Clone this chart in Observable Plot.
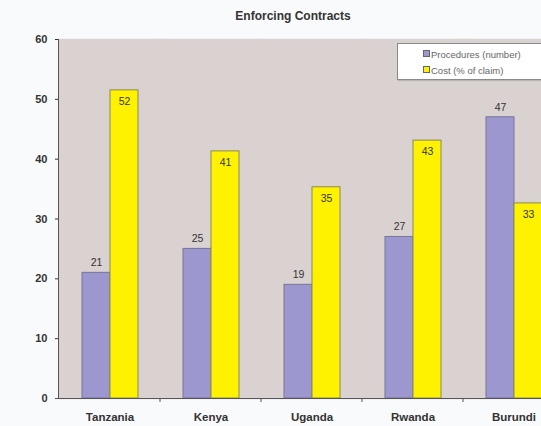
<!DOCTYPE html>
<html>
<head>
<meta charset="utf-8">
<script src="https://cdn.jsdelivr.net/npm/d3@7"></script>
<script src="https://cdn.jsdelivr.net/npm/@observablehq/plot@0.6"></script>
<style>
  html, body { margin: 0; padding: 0; background: #f9fafc; }
  #wrap { position: relative; width: 541px; height: 426px; overflow: hidden; font-family: "Liberation Sans", Arial, sans-serif; }
  #title { position: absolute; left: 0; top: 9px; width: 586px; text-align: center; font-weight: bold; font-size: 12px; color: #333; }
  #chart { position: absolute; left: 0; top: 28px; width: 564px; }
  #chart svg { max-width: none !important; }
  #legend { position: absolute; left: 397px; top: 43px; width: 160px; height: 35px; background: #fff; border: 1px solid #8a8a8a; box-shadow: 1px 1px 1px rgba(0,0,0,0.15); font-size: 9.5px; color: #666; }
  .li { position: absolute; left: 25px; white-space: nowrap; line-height: 11px; }
  .sw { display: inline-block; width: 5px; height: 5px; border: 1px solid #666; margin-right: 1px; vertical-align: 1px; }
</style>
</head>
<body>
<div id="wrap">
  <div id="title">Enforcing Contracts</div>
  <div id="chart"></div>
  <div id="legend"></div>
</div>
<script>
const countries = ["Tanzania", "Kenya", "Uganda", "Rwanda", "Burundi"];
const seriesNames = ["Procedures (number)", "Cost (% of claim)"];
const procedures = [21, 25, 19, 27, 47];
const cost = [51.5, 41.3, 35.3, 43.1, 32.6];
const procedureLabels = ["21", "25", "19", "27", "47"];
const costLabels = ["52", "41", "35", "43", "33"];
const yTicks = [0, 10, 20, 30, 40, 50, 60];
const colors = ["#9c98cf", "#fff200"];
const strokes = ["#77749a", "#8c8a4e"];

const rows = [];
countries.forEach((c, i) => {
  rows.push({country: c, series: seriesNames[0], value: procedures[i], label: procedureLabels[i]});
  rows.push({country: c, series: seriesNames[1], value: cost[i], label: costLabels[i]});
});

const chart = Plot.plot({
  width: 564,
  height: 398,
  marginLeft: 59,
  marginRight: 0,
  marginTop: 11,
  marginBottom: 28,
  facet: {marginTop: 0, marginRight: 0, marginBottom: 0, marginLeft: 0},
  style: {background: "transparent", fontFamily: "Liberation Sans, Arial, sans-serif"},
  fx: {domain: countries, padding: 0, label: null},
  x: {domain: seriesNames, paddingInner: 0, paddingOuter: 0.8, axis: null},
  y: {domain: [0, 60], label: null},
  color: {domain: seriesNames, range: colors},
  marks: [
    Plot.frame({fill: "#d9d2d1", stroke: "#d9d2d1", strokeWidth: 1.5}),
    Plot.barY(rows, {fx: "country", x: "series", y: "value", fill: "series",
      stroke: d => d.series === seriesNames[0] ? strokes[0] : strokes[1], strokeWidth: 1}),
    Plot.text(rows.filter(d => d.series === seriesNames[0]), {fx: "country", x: "series", y: "value", text: "label",
      dy: -10, fontSize: 10.5, fill: "#333"}),
    Plot.text(rows.filter(d => d.series === seriesNames[1]), {fx: "country", x: "series", y: "value", text: "label",
      dy: 11, fontSize: 10.5, fill: "#333"}),
    Plot.axisY({ticks: yTicks, tickSize: 4, tickPadding: 8, fontSize: 11, fontWeight: "bold", color: "#333", label: null}),
    Plot.axisFx({anchor: "bottom", tickSize: 0, tickPadding: 14, fontSize: 11.5, fontWeight: "bold", color: "#333", label: null})
  ]
});
document.getElementById("chart").appendChild(chart);

// Excel-style axis lines and category boundary ticks, positioned from Plot's scales
const fx = chart.scale("fx");
const y = chart.scale("y");
const svg = d3.select(chart);
const y0 = y.apply(0), y60 = y.apply(60);
const left = fx.apply(countries[0]);
const g = svg.append("g").attr("stroke", "#555");
g.append("line").attr("x1", left - 0.5).attr("x2", left - 0.5).attr("y1", y60).attr("y2", y0 + 0.5);
g.append("line").attr("x1", left - 4).attr("x2", 564).attr("y1", y0 + 0.5).attr("y2", y0 + 0.5);
countries.forEach(c => {
  const x = fx.apply(c) + fx.step;
  g.append("line").attr("x1", x).attr("x2", x).attr("y1", y0).attr("y2", y0 + 4);
});

// legend
const leg = document.getElementById("legend");
seriesNames.forEach((s, i) => {
  const d = document.createElement("div");
  d.className = "li";
  d.style.top = (5 + i * 16) + "px";
  d.innerHTML = `<span class="sw" style="background:${colors[i]}"></span>${s}`;
  leg.appendChild(d);
});
</script>
</body>
</html>
